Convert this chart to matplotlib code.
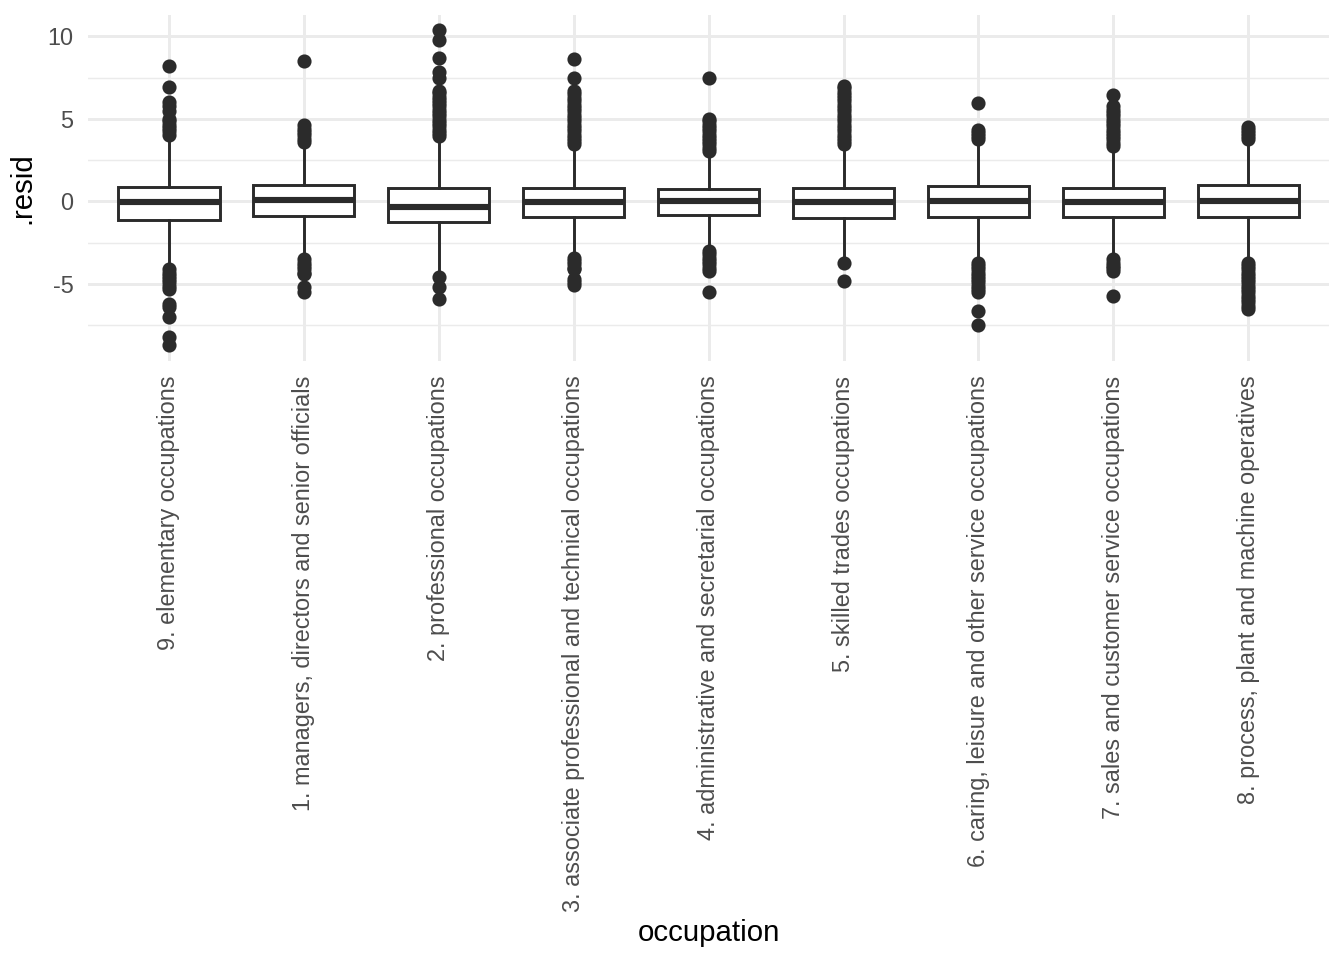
import matplotlib
matplotlib.use("Agg")
import matplotlib.pyplot as plt
from matplotlib.ticker import MultipleLocator

plt.rcParams['font.family'] = ['Liberation Sans', 'DejaVu Sans']
plt.rcParams['axes.unicode_minus'] = False

# categories in plotting order
occupations = [
    "9. elementary occupations",
    "1. managers, directors and senior officials",
    "2. professional occupations",
    "3. associate professional and technical occupations",
    "4. administrative and secretarial occupations",
    "5. skilled trades occupations",
    "6. caring, leisure and other service occupations",
    "7. sales and customer service occupations",
    "8. process, plant and machine operatives",
]

# box statistics
q1 = [-1.1, -0.89, -1.25, -0.95, -0.79, -0.99, -0.95, -0.95, -0.95]
median = [-0.05, 0.08, -0.32, -0.06, 0.04, -0.06, 0.05, -0.03, 0.0]
q3 = [0.9, 0.97, 0.79, 0.79, 0.73, 0.83, 0.93, 0.79, 0.97]
whisker_lo = [-3.9, -3.2, -4.3, -3.1, -2.8, -3.4, -3.4, -3.2, -3.4]
whisker_hi = [3.9, 3.4, 3.65, 3.1, 2.8, 3.3, 3.55, 3.1, 3.6]

# outliers per category
outliers = [
    [4.05, 4.25, 4.45, 4.65, 4.85, 5.0, 5.5, 5.8, 6.0, 6.9, 8.2,
     -4.1, -4.3, -4.5, -4.7, -4.9, -5.1, -5.3, -6.2, -6.4, -7.0, -8.2, -8.7],
    [3.6, 3.8, 4.0, 4.2, 4.4, 4.65, 8.5,
     -3.5, -3.7, -3.9, -4.1, -4.3, -4.4, -5.2, -5.45],
    [3.95, 4.15, 4.35, 4.55, 4.75, 4.95, 5.15, 5.35, 5.55, 5.75, 5.95, 6.15, 6.35,
     6.55, 6.7, 7.45, 7.85, 8.7, 9.75, 10.35,
     -4.6, -5.2, -5.9],
    [3.45, 3.65, 3.85, 4.05, 4.25, 4.45, 4.65, 4.85, 5.05, 5.25, 5.45, 5.65, 5.85,
     6.05, 6.25, 6.5, 6.7, 7.5, 8.65,
     -3.4, -3.6, -3.8, -4.0, -4.1, -4.7, -4.9, -5.05],
    [3.05, 3.25, 3.45, 3.65, 3.85, 4.05, 4.25, 4.45, 4.65, 4.85, 5.0, 7.45,
     -3.0, -3.2, -3.4, -3.6, -3.8, -4.0, -4.2, -5.45],
    [3.45, 3.65, 3.85, 4.05, 4.25, 4.45, 4.65, 4.85, 5.05, 5.25, 5.45, 5.65, 5.85,
     6.05, 6.25, 6.45, 6.65, 6.85, 7.0,
     -3.75, -4.8],
    [3.75, 3.95, 4.15, 4.35, 5.95,
     -3.7, -3.9, -4.1, -4.3, -4.5, -4.7, -4.9, -5.1, -5.3, -5.5, -6.65, -7.45],
    [3.35, 3.55, 3.75, 3.95, 4.15, 4.35, 4.55, 4.75, 4.95, 5.15, 5.35, 5.55, 5.8, 6.45,
     -3.5, -3.7, -3.9, -4.05, -4.2, -5.7],
    [3.75, 3.95, 4.15, 4.35, 4.5,
     -3.7, -3.9, -4.1, -4.3, -4.5, -4.7, -4.9, -5.1, -5.3, -5.5, -5.7, -5.9, -6.1,
     -6.3, -6.5],
]

stats = []
for i, name in enumerate(occupations):
    stats.append(dict(label=name, q1=q1[i], med=median[i], q3=q3[i],
                      whislo=whisker_lo[i], whishi=whisker_hi[i], fliers=outliers[i]))

fig = plt.figure(figsize=(7, 5), dpi=192)
ax = fig.add_axes([0.0655, 0.624, 0.9235, 0.3607])

dark = "#2B2B2B"
ax.bxp(stats, positions=range(1, 10), widths=0.75, showcaps=False, patch_artist=True,
       boxprops=dict(facecolor="white", edgecolor=dark, linewidth=1.1),
       whiskerprops=dict(color=dark, linewidth=1.1),
       medianprops=dict(color=dark, linewidth=2.3),
       flierprops=dict(marker="o", markerfacecolor=dark, markeredgecolor=dark,
                       markersize=4.3, linestyle="none"),
       zorder=3)

ax.set_xlim(0.4, 9.6)
ax.margins(y=0.05)
ax.yaxis.set_major_locator(MultipleLocator(5))
ax.yaxis.set_minor_locator(MultipleLocator(2.5))

# ggplot theme_minimal look
for s in ax.spines.values():
    s.set_visible(False)
ax.set_axisbelow(True)
ax.grid(which="major", color="#EBEBEB", linewidth=1.1)
ax.grid(which="minor", axis="y", color="#EBEBEB", linewidth=0.55)
ax.tick_params(which="both", length=0)
ax.tick_params(axis="y", pad=5.5, labelsize=8.8, labelcolor="#4D4D4D")
ax.tick_params(axis="x", pad=5.5, labelsize=8.8, labelcolor="#4D4D4D")
ax.set_xticks(range(1, 10))
ax.set_xticklabels(occupations, rotation=90, ha="center", va="top")

ax.set_ylabel(".resid", fontsize=11, labelpad=4)
ax.set_xlabel("occupation", fontsize=11, labelpad=2.5)

fig.savefig("out.png", dpi=192, facecolor="white")
